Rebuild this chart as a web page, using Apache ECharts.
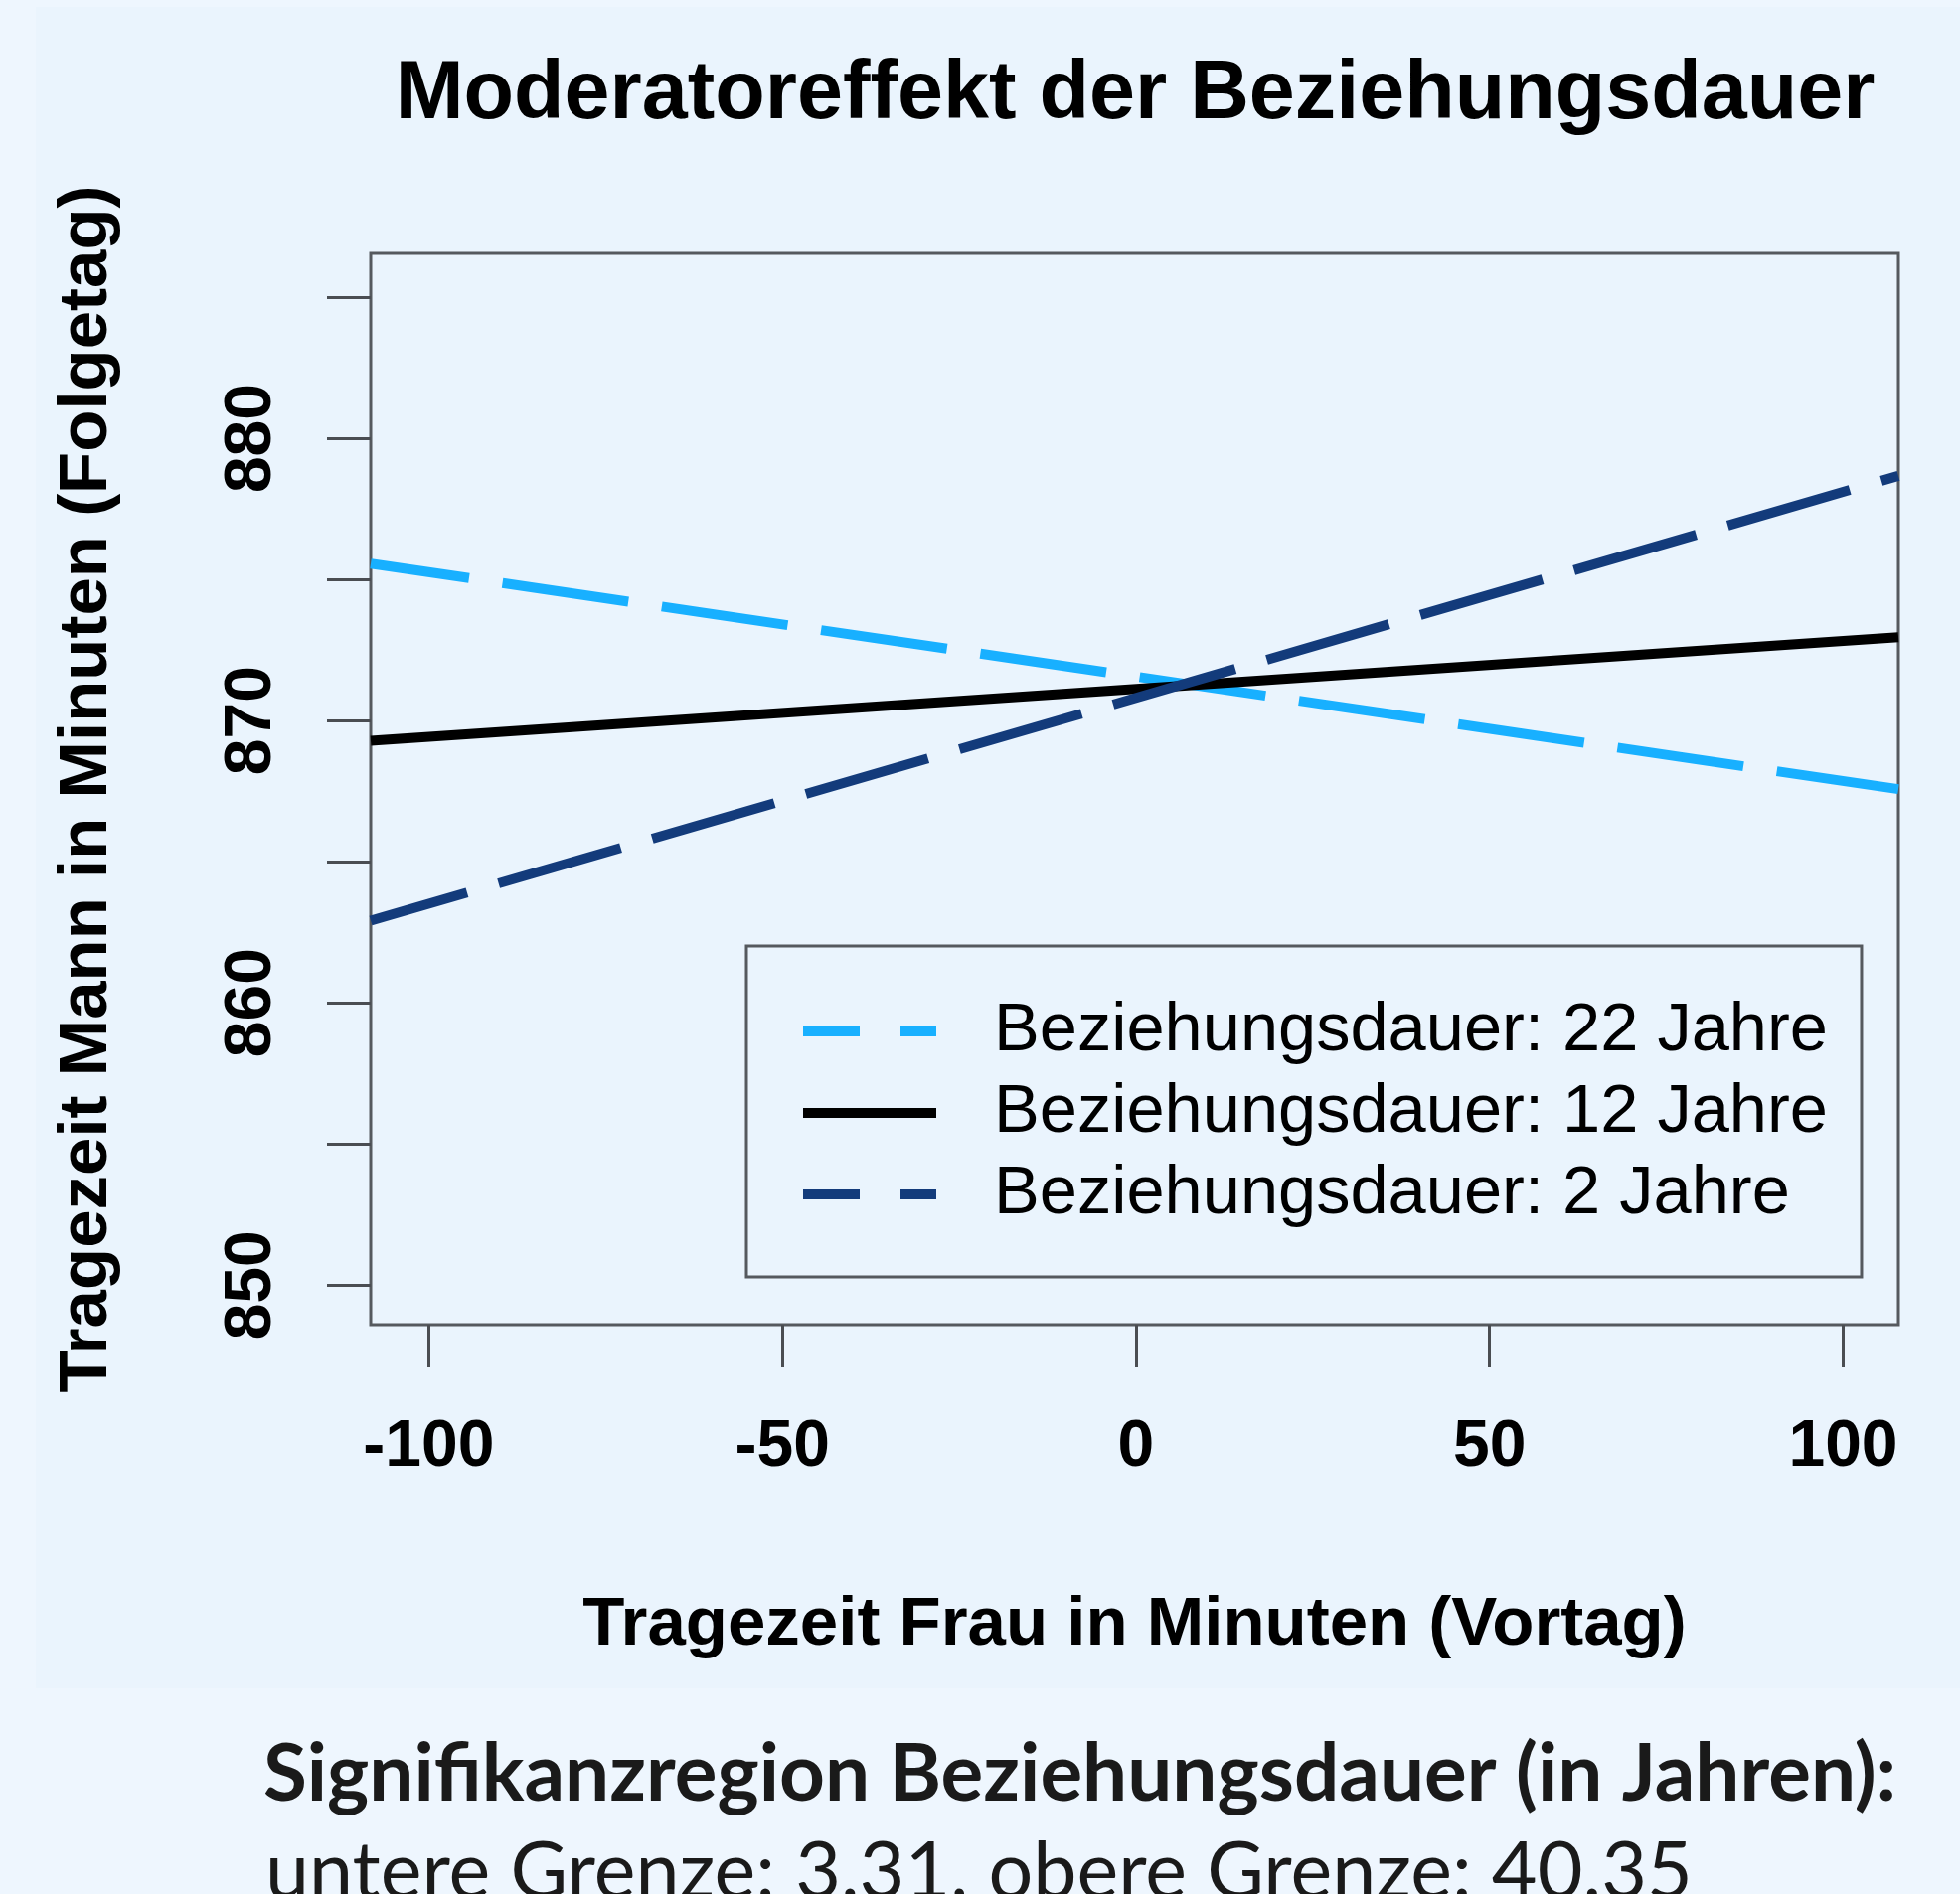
<!DOCTYPE html>
<html>
<head>
<meta charset="utf-8">
<script src="https://cdn.jsdelivr.net/npm/echarts@6/dist/echarts.min.js"></script>
<style>
    html, body { margin: 0; padding: 0; background: #eef6fe; }
    #main { width: 1972px; height: 1906px; }
</style>
</head>
<body>
<div id="main"></div>
<script>
// Werte
var xEnds = [-108.2, 107.8];
var dauer22 = [875.56, 867.57];
var dauer12 = [869.28, 872.95];
var dauer2 = [862.91, 878.67];
var names = ['Beziehungsdauer: 22 Jahre', 'Beziehungsdauer: 12 Jahre', 'Beziehungsdauer: 2 Jahre'];
var xTicks = [-100, -50, 0, 50, 100];
var yTicks = [850, 855, 860, 865, 870, 875, 880, 885];
var yLabels = [850, 860, 870, 880];

var font = "'Liberation Sans', Arial, sans-serif";
// Legendensymbole: gestrichelt bzw. durchgezogen
var dashIcon = 'path://M0,0h57v10h-57z M98,0h36v10h-36z';
var solidIcon = 'path://M0,0h134v10h-134z';

function pairs(vals) {
    return vals.map((v, i) => [xEnds[i], v]);
}

var myChart = echarts.init(document.getElementById('main'));

var option = {
    backgroundColor: '#eef6fe',
    animation: false,
    graphic: [
        { type: 'rect', z: -100, shape: { x: 36, y: 7, width: 1936, height: 1692 }, style: { fill: '#eaf4fd' } },
        {
            type: 'text', x: 1142, y: 96,
            style: { text: 'Moderatoreffekt der Beziehungsdauer', font: 'bold 82.7px ' + font, fill: '#000', align: 'center', verticalAlign: 'middle' }
        },
        {
            type: 'text', x: 265, y: 1786,
            style: { text: 'Signifikanzregion Beziehungsdauer (in Jahren):', font: 'bold 80px Lato, sans-serif', fill: '#1a1a1a', verticalAlign: 'middle' }
        },
        {
            type: 'text', x: 267, y: 1885,
            style: { text: 'untere Grenze: 3.31, obere Grenze: 40.35', font: '79px Lato, sans-serif', fill: '#1a1a1a', verticalAlign: 'middle' }
        }
    ],
    grid: {
        left: 373, right: 62, top: 255, bottom: 573,
        show: true, borderColor: '#55595e', borderWidth: 3, backgroundColor: 'transparent'
    },
    legend: {
        orient: 'vertical',
        left: 751, top: 952,
        padding: [45, 34, 42, 57],
        itemGap: 0,
        itemWidth: 134, itemHeight: 10,
        symbolKeepAspect: false,
        borderColor: '#55595e', borderWidth: 3,
        textStyle: { fontFamily: font, fontSize: 68.6, lineHeight: 72, padding: [10, 0, 0, 53], color: '#000' },
        data: [
            { name: names[0], icon: dashIcon, itemStyle: { color: '#18b0ff' } },
            { name: names[1], icon: solidIcon, itemStyle: { color: '#000000' } },
            { name: names[2], icon: dashIcon, itemStyle: { color: '#133b7b' } }
        ]
    },
    xAxis: {
        type: 'value',
        min: xEnds[0], max: xEnds[1],
        splitLine: { show: false },
        axisLine: { show: false, onZero: false },
        axisTick: { show: true, customValues: xTicks, length: 43, lineStyle: { color: '#4a4d52', width: 3 } },
        axisLabel: { customValues: xTicks, margin: 91, fontFamily: font, fontWeight: 'bold', fontSize: 66, color: '#000' },
        name: 'Tragezeit Frau in Minuten (Vortag)',
        nameLocation: 'middle', nameGap: 268,
        nameTextStyle: { fontFamily: font, fontWeight: 'bold', fontSize: 69, color: '#000' }
    },
    yAxis: {
        type: 'value',
        min: 848.6, max: 886.55,
        splitLine: { show: false },
        axisLine: { show: false, onZero: false },
        axisTick: { show: true, customValues: yTicks, length: 44, lineStyle: { color: '#4a4d52', width: 3 } },
        axisLabel: { customValues: yLabels, rotate: 90, margin: 86, fontFamily: font, fontWeight: 'bold', fontSize: 66, color: '#000' },
        name: 'Tragezeit Mann in Minuten (Folgetag)',
        nameLocation: 'middle', nameGap: 251,
        nameTextStyle: { fontFamily: font, fontWeight: 'bold', fontSize: 69, color: '#000' }
    },
    series: [
        {
            name: names[0], type: 'line', data: pairs(dauer22), symbol: 'none',
            lineStyle: { color: '#18b0ff', width: 10, type: [128, 34], dashOffset: 28, cap: 'butt' },
            itemStyle: { color: '#18b0ff' }
        },
        {
            name: names[1], type: 'line', data: pairs(dauer12), symbol: 'none',
            lineStyle: { color: '#000000', width: 10, cap: 'butt' },
            itemStyle: { color: '#000000' }
        },
        {
            name: names[2], type: 'line', data: pairs(dauer2), symbol: 'none',
            lineStyle: { color: '#133b7b', width: 10, type: [128, 33], dashOffset: 27, cap: 'butt' },
            itemStyle: { color: '#133b7b' }
        }
    ]
};

myChart.setOption(option);
</script>
</body>
</html>
